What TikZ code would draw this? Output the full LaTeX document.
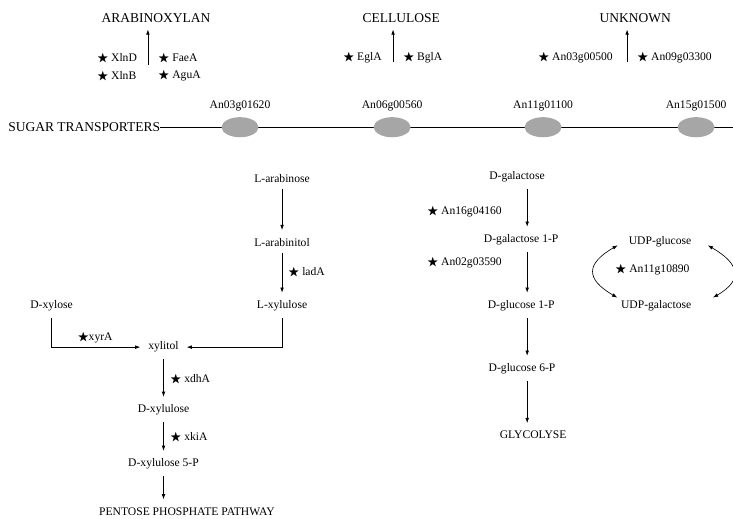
\documentclass[tikz,border=0pt]{standalone}
\usepackage{amssymb}
\usepackage{fontspec}
\setmainfont{Liberation Serif}
\usetikzlibrary{arrows.meta}
\usetikzlibrary{shapes.geometric}
\tikzset{conv/.style = {-{Latex[length=5pt,width=3.5pt]}, line width=.7pt,
                        shorten <=3pt, shorten >=4pt}}
\tikzset{epim/.style = {{Latex[length=5pt,width=3.5pt]}-{Latex[length=5pt,width=3.5pt]},
                        line width=.6pt}}
\tikzset{polymer/.style = {font=\fontsize{12.8}{15}\selectfont}}
\tikzset{product/.style = {font=\fontsize{11}{13}\selectfont}}
\tikzset{metab/.style = {font=\fontsize{11}{13}\selectfont}}
\tikzset{enzyme/.style = {font=\fontsize{11}{13}\selectfont, anchor=west, inner sep=1pt}}
\tikzset{porter/.style = {ellipse, fill=black!35, inner sep=0,
                          minimum width=1.23cm, minimum height=.67cm}}
\newcommand{\enz}[1]{$\bigstar$\ #1}

\begin{document}
\begin{tikzpicture}
      \useasboundingbox (0,0) rectangle (24.43,17.27);
      % polymers
      \node [polymer] (arab) at (5.2,16.67) {ARABINOXYLAN};
      \node [polymer] (cell) at (13.37,16.67) {CELLULOSE};
      \node [polymer] (unkn) at (21.17,16.67) {UNKNOWN};
      \coordinate (afoot) at (4.93,15.1);
      \coordinate (cfoot) at (13.1,15.2);
      \coordinate (ufoot) at (20.9,15.2);
      \draw [conv, shorten <=0pt, shorten >=3pt] (afoot) -- (afoot |- arab.south);
      \draw [conv, shorten <=0pt, shorten >=3pt] (cfoot) -- (cfoot |- cell.south);
      \draw [conv, shorten <=0pt, shorten >=3pt] (ufoot) -- (ufoot |- unkn.south);
      \node [enzyme] (xlnd) at (3.2,15.33) {\enz{XlnD}};
      \node [enzyme] (xlnb) at (3.2,14.73) {\enz{XlnB}};
      \node [enzyme] (faea) at (5.24,15.33) {\enz{FaeA}};
      \node [enzyme] (agua) at (5.24,14.73) {\enz{AguA}};
      \node [enzyme] (egla) at (11.4,15.33) {\enz{EglA}};
      \node [enzyme] (bgla) at (13.4,15.33) {\enz{BglA}};
      \node [enzyme] (an03) at (17.9,15.33) {\enz{An03g00500}};
      \node [enzyme] (an09) at (21.2,15.33) {\enz{An09g03300}};
      % transporters
      \node [polymer, anchor=west, inner xsep=0] (sugar) at (0.27,13.03) {SUGAR TRANSPORTERS};
      \coordinate (edge) at (24.43,13.03);
      \draw [line width=.7pt] (sugar.east) -- (edge);
      \foreach \x/\gene [count=\i] in {8.0/An03g01620, 13.07/An06g00560,
                                      18.1/An11g01100, 23.2/An15g01500} {
        \node [porter] (t\i) at (\x,13.03) {};
        \node [metab] (g\i) at (\x,13.75) {\gene};
      }
      % pentose pathway
      \node [metab] (larb) at (9.4,11.33) {L-arabinose};
      \node [metab] (larbol) at (9.4,9.2) {L-arabinitol};
      \node [metab] (lxyl) at (9.4,7.07) {L-xylulose};
      \node [metab] (dxyl) at (1.72,7.07) {D-xylose};
      \node [metab] (xylitol) at (5.45,5.7) {xylitol};
      \node [metab] (dxylu) at (5.45,3.6) {D-xylulose};
      \node [metab] (dx5p) at (5.45,1.8) {D-xylulose 5-P};
      \node [product] (ppp) at (6.23,0.23) {PENTOSE PHOSPHATE PATHWAY};
      \draw [conv] (larb) -- (larbol);
      \draw [conv] (larbol) -- (lxyl);
      \draw [conv] (lxyl.south) |- (xylitol.east);
      \draw [conv] (dxyl.south) |- (xylitol.west);
      \draw [conv] (xylitol) -- (dxylu);
      \draw [conv] (dxylu) -- (dx5p);
      \draw [conv] (dx5p.south) -- (dx5p.south |- ppp.north);
      \node [enzyme] (lada) at (9.57,8.17) {\enz{ladA}};
      \node [enzyme] (xyra) at (2.55,6.0) {$\bigstar$xyrA};
      \node [enzyme] (xdha) at (5.64,4.63) {\enz{xdhA}};
      \node [enzyme] (xkia) at (5.64,2.7) {\enz{xkiA}};
      % galactose pathway
      \coordinate (gcol) at (17.57,0);
      \node [metab] (dgal) at (17.23,11.37) {D-galactose};
      \node [metab] (dgal1p) at (17.37,9.27) {D-galactose 1-P};
      \node [metab] (dglc1p) at (17.37,7.07) {D-glucose 1-P};
      \node [metab] (dglc6p) at (17.4,4.97) {D-glucose 6-P};
      \node [product] (glyco) at (17.77,2.77) {GLYCOLYSE};
      \draw [conv] (dgal.south -| gcol) -- (dgal1p.north -| gcol);
      \draw [conv] (dgal1p.south -| gcol) -- (dglc1p.north -| gcol);
      \draw [conv] (dglc1p.south -| gcol) -- (dglc6p.north -| gcol);
      \draw [conv] (dglc6p.south -| gcol) -- (glyco.north -| gcol);
      \node [enzyme] (an16) at (14.2,10.2) {\enz{An16g04160}};
      \node [enzyme] (an02) at (14.2,8.5) {\enz{An02g03590}};
      % epimerase
      \node [metab] (udpglc) at (22.0,9.2) {UDP-glucose};
      \node [metab] (udpgal) at (21.87,7.07) {UDP-galactose};
      \node [enzyme] (an11) at (20.47,8.27) {\enz{An11g10890}};
      \draw [epim] ([xshift=-7pt,yshift=-3pt]udpglc.west) to [out=210, in=150, looseness=1.8]
                   ([yshift=8pt]udpgal.west);
      \draw [epim] ([xshift=12pt,yshift=-3pt]udpglc.east) to [out=330, in=30, looseness=1.75]
                   ([xshift=17pt,yshift=8pt]udpgal.east);
    \end{tikzpicture}
\end{document}
